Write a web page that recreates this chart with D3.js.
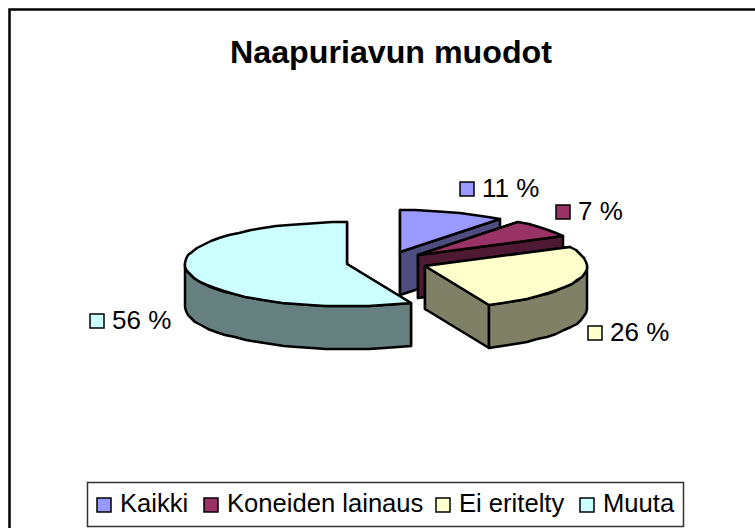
<!DOCTYPE html>
<html>
<head>
<meta charset="utf-8">
<script src="https://cdn.jsdelivr.net/npm/d3@7"></script>
<style>
html, body { margin: 0; padding: 0; background: #fff; }
svg { display: block; }
text { font-family: "Liberation Sans", Arial, sans-serif; fill: #000; }
</style>
</head>
<body>
<svg id="chart" width="755" height="528"></svg>
<script>
// chart values; labels show them rounded
var categories = ["Kaikki", "Koneiden lainaus", "Ei eritelty", "Muuta"];
var values = [10.6, 6.9, 25.9, 56.4];
var topColors = ["#9999ff", "#993366", "#ffffcc", "#ccffff"];
var sideColors = ["#4d4d80", "#4d1933", "#808066", "#668080"];

var svg = d3.select("#chart");

var cx = 387, cy = 262, rx = 162, ry = 42, depth = 43, explode = 0.25;
var LINE = 2.5;

svg.append("rect").attr("x", 9.5).attr("y", 9.5).attr("width", 760).attr("height", 540)
   .attr("fill", "#fff").attr("stroke", "#000").attr("stroke-width", 2.5);

svg.append("text").attr("x", 391).attr("y", 63).attr("text-anchor", "middle")
   .attr("font-weight", "bold").attr("font-size", 32.2).text("Naapuriavun muodot");

var pie = d3.pie().sort(null);
var arcs = pie(values);

// pie angle -> screen point on the squashed ellipse, snapped to whole pixels
// because the original outline is a rough stepped polygon
function pt(a, o, dz) {
    return [Math.round(o[0] + rx * Math.sin(a)), Math.round(o[1] - ry * Math.cos(a)) + (dz || 0)];
}
function sample(a0, a1) {
    var n = Math.max(2, Math.round((a1 - a0) / 0.09));
    return d3.range(n + 1).map(function(i){ return a0 + (a1 - a0) * i / n; });
}
var line = d3.line();

var g = svg.append("g").attr("stroke", "#000").attr("stroke-width", LINE).attr("stroke-linejoin", "round");

arcs.forEach(function(d, i){
    var mid = (d.startAngle + d.endAngle) / 2;
    var o = [Math.round(cx + explode * rx * Math.sin(mid)), Math.round(cy - explode * ry * Math.cos(mid))];

    // cut faces first, the top and rim cover what should not show
    [d.startAngle, d.endAngle].forEach(function(a){
        var p = pt(a, o), q = pt(a, o, depth);
        g.append("path").attr("fill", sideColors[i])
         .attr("d", line([o, p, q, [o[0], o[1] + depth]]) + "Z");
    });

    // rim, only the part facing the viewer
    var r0 = Math.max(d.startAngle, Math.PI / 2), r1 = Math.min(d.endAngle, Math.PI * 1.5);
    if (r1 > r0) {
        var upper = sample(r0, r1).map(function(a){ return pt(a, o); });
        var lower = sample(r0, r1).reverse().map(function(a){ return pt(a, o, depth); });
        g.append("path").attr("fill", sideColors[i]).attr("d", line(upper.concat(lower)) + "Z");
    }

    var rim = sample(d.startAngle, d.endAngle).map(function(a){ return pt(a, o); });
    g.append("path").attr("fill", topColors[i]).attr("d", line([o].concat(rim)) + "Z");
});

// data labels, key square + percentage
var labelX = [460, 556, 588, 90];
var labelY = [189, 212, 333, 321];
arcs.forEach(function(d, i){
    svg.append("rect").attr("x", labelX[i]).attr("y", labelY[i] - 7).attr("width", 14).attr("height", 14)
       .attr("fill", topColors[i]).attr("stroke", "#000").attr("stroke-width", 1.5);
    svg.append("text").attr("x", labelX[i] + 22).attr("y", labelY[i] + 8)
       .attr("font-size", 26).text(Math.round(values[i]) + " %");
});

// legend
svg.append("rect").attr("x", 87.5).attr("y", 482.5).attr("width", 596).attr("height", 44)
   .attr("fill", "#fff").attr("stroke", "#333").attr("stroke-width", 1.5);
var keyX = [97, 204, 436, 580];
categories.forEach(function(c, i){
    svg.append("rect").attr("x", keyX[i]).attr("y", 498).attr("width", 14).attr("height", 14)
       .attr("fill", topColors[i]).attr("stroke", "#000").attr("stroke-width", 1.5);
    svg.append("text").attr("x", keyX[i] + 23).attr("y", 512)
       .attr("font-size", 25.6).text(c);
});
</script>
</body>
</html>
